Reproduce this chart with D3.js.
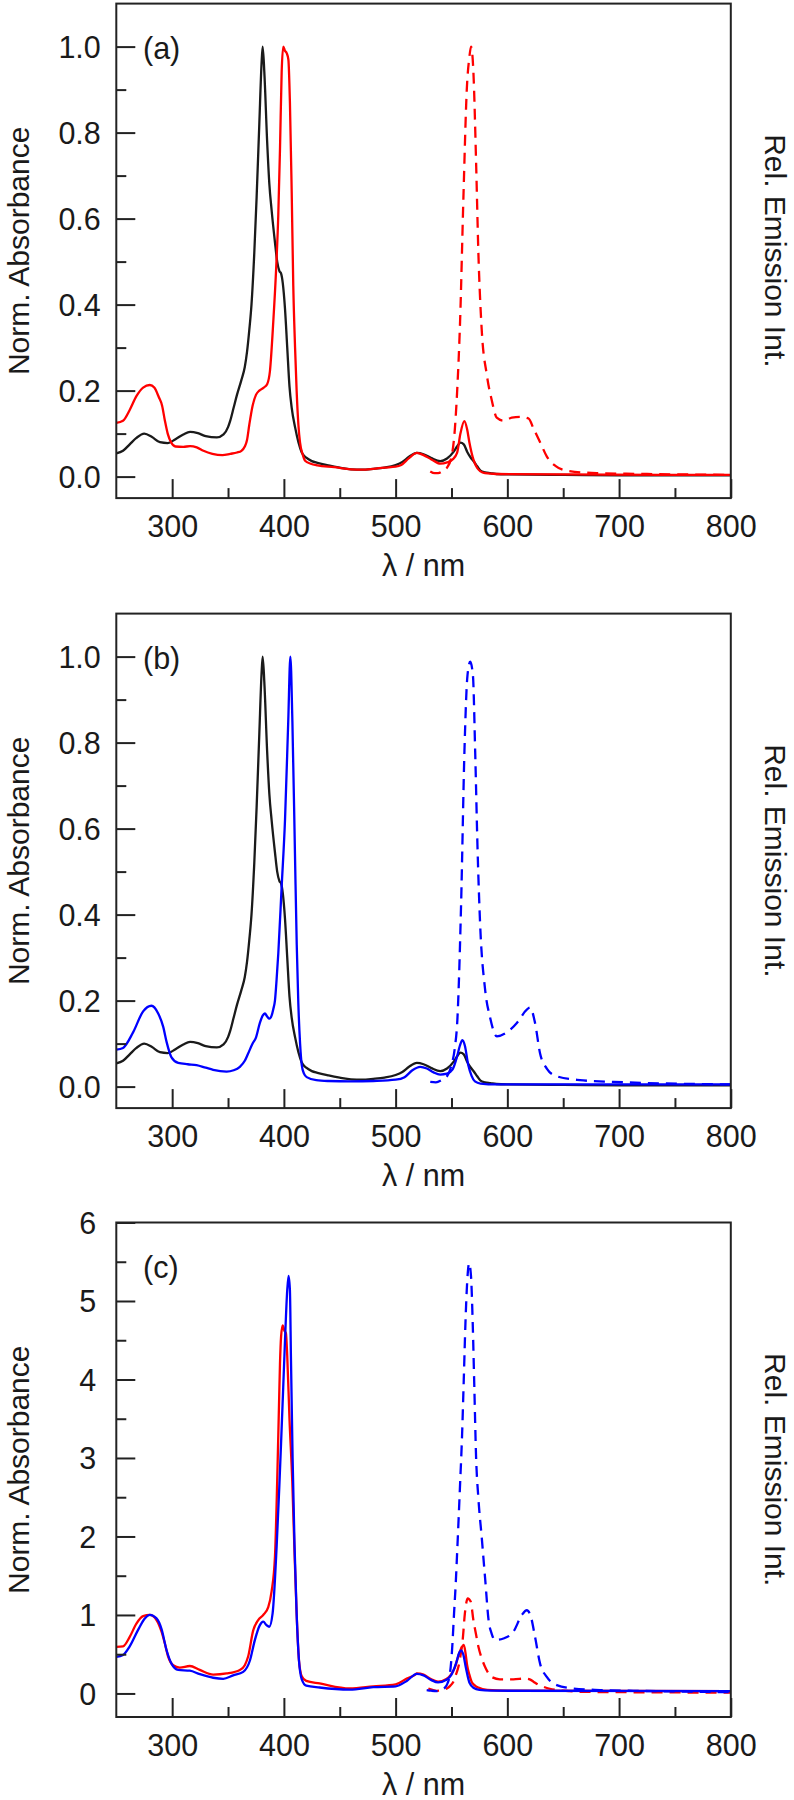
<!DOCTYPE html>
<html><head><meta charset="utf-8">
<script src="https://cdn.jsdelivr.net/npm/d3@7"></script>
<style>
body{margin:0;background:#fff}
svg text{font-family:"Liberation Sans",Arial,Helvetica,sans-serif;fill:#1a1a1a}
</style>
</head><body>
<svg id="chart" width="794" height="1800"></svg>
<script>
// ---------- tick labels / axis values ----------
const xMajorTicks = [300, 400, 500, 600, 700, 800];
const xMinorTicks = [350, 450, 550, 650, 750];
const yMajorAB = [0, 0.2, 0.4, 0.6, 0.8, 1.0];
const yMinorAB = [0.1, 0.3, 0.5, 0.7, 0.9];
const yMajorC = [0, 1, 2, 3, 4, 5, 6];
const yMinorC = [0.5, 1.5, 2.5, 3.5, 4.5, 5.5];
const panelLabels = ["(a)", "(b)", "(c)"];

// ---------- reference compound absorption (black), panels a & b ----------
const wlBlack = [250,256,262,268,275,282,289,296,303,310,316,323,330,340,346,350,352,355,358,362,365,367,369,371,373.5,375.6,378,380,381,382.5,385,387,389,392,394,396,397.5,399,401,403,405,407,410,413,416,420,425,430,440,450,460,470,480,490,500,506,512,519,525,532,540,546,552,555,558,561,564,567,570,573,576,580,585,590,600,650,700,750,800];
const absBlack = [0.054,0.06,0.075,0.09,0.100,0.092,0.08,0.078,0.087,0.098,0.104,0.101,0.094,0.091,0.098,0.115,0.13,0.16,0.19,0.225,0.255,0.29,0.34,0.40,0.52,0.65,0.82,0.96,1.0,0.94,0.78,0.68,0.62,0.545,0.50,0.478,0.472,0.45,0.39,0.30,0.21,0.16,0.115,0.08,0.056,0.044,0.036,0.032,0.026,0.021,0.017,0.016,0.018,0.021,0.027,0.034,0.046,0.055,0.052,0.043,0.036,0.042,0.058,0.07,0.079,0.075,0.058,0.045,0.035,0.024,0.014,0.010,0.008,0.006,0.005,0.004,0.003,0.003,0.003];

// ---------- panel a: red absorption (solid) and emission (dashed) ----------
const wlRedAbsA = [250,256,262,268,274,280,284,288,291,293.5,296,299,303,310,316,322,328,336,345,352,358,362,365,367,369,372,375,378,382,385,387.5,390.5,393,395,396.5,398,399.4,401,402.5,404,405.4,407,408.4,410,411.4,413,414.4,417,419,424,430,445,460,470,480,490,500,505,512,519,525,532,540,546,551,555,558,561.5,564,566,569.6,573,576,580,590,650,800];
const absRedA = [0.125,0.13,0.155,0.187,0.207,0.213,0.207,0.185,0.165,0.13,0.1,0.08,0.07,0.069,0.071,0.068,0.06,0.053,0.05,0.053,0.056,0.06,0.07,0.085,0.12,0.165,0.19,0.2,0.207,0.215,0.245,0.36,0.48,0.61,0.76,0.94,1.0,0.99,0.985,0.97,0.87,0.66,0.444,0.3,0.2,0.12,0.08,0.05,0.037,0.03,0.026,0.022,0.017,0.016,0.018,0.021,0.023,0.027,0.043,0.055,0.05,0.04,0.03,0.033,0.04,0.055,0.1,0.129,0.11,0.08,0.04,0.02,0.012,0.008,0.006,0.005,0.004];
const wlRedEmA = [531,535,538,542,546,550,553,555,557.7,560.7,563.7,566,567.5,569.6,572,574,577,581.6,586,590.5,596.6,604,611.5,619,623.4,629.5,635.5,643,653,680,725,800];
const emRedA = [0.012,0.008,0.008,0.013,0.021,0.046,0.11,0.195,0.361,0.651,0.9,0.975,1.0,0.942,0.734,0.527,0.344,0.237,0.178,0.137,0.13,0.137,0.139,0.135,0.112,0.079,0.046,0.025,0.014,0.008,0.006,0.004];

// ---------- panel b: blue absorption (solid) and emission (dashed) ----------
const wlBlueAbsB = [250,256,265,274,281.5,287.5,292,295,299.4,305.4,314,321.8,330,336.7,348.7,355,360.6,365,368,372,375,378.5,381,383,385,387,389,390.5,392,393.5,395,398,401,403.9,405.8,407.6,409.9,411.5,412.9,414.5,416,418,420.4,429,440,460,480,500,508,515,522,528,534,540,546,551,555,557.5,559.8,562,565,568,571,576,590,650,800];
const absBlueB = [0.086,0.09,0.126,0.175,0.188,0.17,0.139,0.104,0.068,0.055,0.052,0.05,0.044,0.039,0.035,0.038,0.046,0.06,0.077,0.1,0.114,0.148,0.165,0.17,0.163,0.158,0.165,0.18,0.2,0.25,0.31,0.465,0.62,0.85,1.0,0.85,0.543,0.33,0.195,0.1,0.05,0.03,0.022,0.015,0.013,0.012,0.013,0.016,0.022,0.038,0.046,0.042,0.033,0.028,0.03,0.04,0.07,0.095,0.108,0.095,0.05,0.025,0.012,0.007,0.005,0.005,0.005];
const wlBlueEmB = [531,536,541,546,550,553,555.3,558.6,561.6,564.3,566.8,569.2,571.2,573.3,575.6,580,584.6,590.6,599.5,608.5,617.4,620.3,624.8,629.3,635.3,644.2,665,695,800];
const emBlueB = [0.011,0.01,0.015,0.024,0.05,0.09,0.157,0.424,0.78,0.956,0.988,0.956,0.78,0.556,0.38,0.228,0.16,0.117,0.126,0.148,0.179,0.184,0.148,0.077,0.042,0.024,0.015,0.011,0.005];

// ---------- panel c: red and blue, absorption (solid) and emission (dashed) ----------
const wlRedAbsC = [250,256,262,268,274,280,286,290.5,293.4,296.4,300.9,306.8,315.8,324.7,336.7,348.7,360.6,365,368,372.5,377,381.5,386,389,392,394,395.5,396.5,397.5,398.9,400.5,401.8,403,405,407.5,409.5,411.4,413.5,416,420,432,459,480,500,510,517.6,519,525,532,538,545,549,553,556,558.5,561,562.5,564,566,568,571,574,582,600,800];
const absRedC = [0.594,0.6,0.72,0.89,0.985,1.0,0.935,0.786,0.64,0.47,0.36,0.33,0.35,0.3,0.24,0.255,0.3,0.36,0.47,0.8,0.935,1.0,1.1,1.3,1.74,2.7,3.6,4.2,4.55,4.69,4.62,4.59,4.3,3.5,2.7,1.8,1.02,0.42,0.22,0.16,0.127,0.063,0.09,0.117,0.19,0.24,0.256,0.24,0.18,0.15,0.18,0.23,0.33,0.47,0.57,0.62,0.52,0.36,0.24,0.15,0.1,0.075,0.045,0.035,0.03];
const wlBlueAbsC = [250,256,262,269.5,275.5,280,286,290.5,295,299.4,305.4,315.8,324.7,336.7,345.7,354.6,363.6,369.6,374,378.5,381.5,384.5,386.9,389.9,393.5,395.8,397.5,399.4,401,403,404.2,405.4,406.3,407.8,409.5,411.4,413.5,416,420,432,459,480,500,510,519,525,532,538,545,550,554,557,558.6,560.5,563,566,570,575,585,800];
const absBlueC = [0.466,0.49,0.6,0.81,0.956,1.0,0.956,0.82,0.55,0.38,0.3,0.29,0.246,0.2,0.186,0.23,0.275,0.42,0.68,0.87,0.914,0.87,0.85,1.02,1.87,2.6,3.2,3.9,4.5,5.14,5.32,5.14,4.29,3.0,1.9,1.02,0.42,0.18,0.1,0.076,0.05,0.08,0.09,0.16,0.25,0.23,0.17,0.14,0.17,0.24,0.38,0.52,0.55,0.5,0.32,0.14,0.07,0.045,0.035,0.03];
const wlRedEmC = [529.3,533,536.8,541,545.8,549,551.7,554,556.2,558.5,560,562,563.5,564.5,567.2,569.6,572,574,577,580,583,586,593.4,605.4,616,620,623.4,628,632.3,638,644.2,655,668,720,800];
const emRedC = [0.063,0.045,0.034,0.04,0.063,0.1,0.15,0.24,0.34,0.52,0.68,1.02,1.17,1.21,1.17,0.935,0.75,0.6,0.45,0.34,0.26,0.21,0.18,0.18,0.19,0.18,0.15,0.11,0.085,0.06,0.043,0.03,0.02,0.015,0.01];
const wlBlueEmC = [527.8,532,536.8,541,544.2,546.5,548.7,550.5,552.3,553.8,555.3,557.5,559.5,561,562.5,564,565.8,567.5,569,570.5,572,574,577,580.2,583.2,586,589,596.5,605.4,613,617.4,621,624.8,629.3,635.3,644.2,659,683,712.6,800];
const emBlueC = [0.043,0.035,0.03,0.045,0.076,0.13,0.26,0.55,1.02,1.4,1.87,2.6,3.3,4.0,4.72,5.23,5.48,5.31,4.72,3.87,3.02,2.5,2.0,1.45,0.935,0.76,0.68,0.7,0.786,1.0,1.06,0.98,0.72,0.38,0.21,0.106,0.063,0.043,0.034,0.017];

// ---------- layout ----------
const plotLeft = 116.3, plotRight = 730.8, plotH = 494.5;
const tops = [3.6, 613.6, 1222.5];
const FS = 30.5, FS_TITLE = 30;
const BLACK = "#1a1a1a", RED = "#ff0000", BLUE = "#0000ff";
const zip = (xs, ys) => xs.map((x, i) => [x, ys[i]]);

const panels = [
  { label: panelLabels[0], top: tops[0], yDomain: [-0.05, 1.1], yMajor: yMajorAB, yMinor: yMinorAB, fmt: d3.format(".1f"), pad: 15.5,
    series: [
      { d: zip(wlBlack, absBlack), c: BLACK, dash: false },
      { d: zip(wlRedAbsA, absRedA), c: RED, dash: false },
      { d: zip(wlRedEmA, emRedA), c: RED, dash: true } ] },
  { label: panelLabels[1], top: tops[1], yDomain: [-0.05, 1.1], yMajor: yMajorAB, yMinor: yMinorAB, fmt: d3.format(".1f"), pad: 15.5,
    series: [
      { d: zip(wlBlack, absBlack), c: BLACK, dash: false },
      { d: zip(wlBlueAbsB, absBlueB), c: BLUE, dash: false },
      { d: zip(wlBlueEmB, emBlueB), c: BLUE, dash: true } ] },
  { label: panelLabels[2], top: tops[2], yDomain: [-0.3, 6], yMajor: yMajorC, yMinor: yMinorC, fmt: d3.format("d"), pad: 20,
    series: [
      { d: zip(wlRedAbsC, absRedC), c: RED, dash: false },
      { d: zip(wlRedEmC, emRedC), c: RED, dash: true },
      { d: zip(wlBlueAbsC, absBlueC), c: BLUE, dash: false },
      { d: zip(wlBlueEmC, emBlueC), c: BLUE, dash: true } ] }
];

const svg = d3.select("#chart");
const x = d3.scaleLinear().domain([250, 800]).range([plotLeft, plotRight]);
const AX = "#222";

panels.forEach((p, i) => {
  const bottom = p.top + plotH;
  const y = d3.scaleLinear().domain(p.yDomain).range([bottom, p.top]);
  const g = svg.append("g");

  const clipId = "clip" + i;
  svg.append("clipPath").attr("id", clipId).append("rect")
    .attr("x", plotLeft).attr("y", p.top).attr("width", plotRight - plotLeft).attr("height", plotH);

  // curves
  const line = d3.line().x(d => x(d[0])).y(d => y(d[1])).curve(d3.curveMonotoneX);
  const cg = g.append("g").attr("clip-path", `url(#${clipId})`);
  p.series.forEach(s => {
    cg.append("path").datum(s.d).attr("d", line)
      .attr("fill", "none").attr("stroke", s.c).attr("stroke-width", 2.3)
      .attr("stroke-linejoin", "round")
      .attr("stroke-dasharray", s.dash ? "11,7" : null);
  });

  // y axis major
  const yAx = g.append("g").attr("transform", `translate(${plotLeft},0)`)
    .call(d3.axisLeft(y).tickValues(p.yMajor).tickSize(-19).tickPadding(p.pad).tickFormat(p.fmt));
  yAx.select(".domain").remove();
  yAx.selectAll("line").attr("stroke", AX).attr("stroke-width", 2);
  yAx.selectAll("text").attr("font-size", FS).attr("font-family", null).attr("fill", "#1a1a1a").attr("dy", "0.36em");
  const yMin = g.append("g").attr("transform", `translate(${plotLeft},0)`)
    .call(d3.axisLeft(y).tickValues(p.yMinor).tickSize(-10).tickFormat(""));
  yMin.select(".domain").remove();
  yMin.selectAll("line").attr("stroke", AX).attr("stroke-width", 2);

  // x axis
  const xAx = g.append("g").attr("transform", `translate(0,${bottom})`)
    .call(d3.axisBottom(x).tickValues(xMajorTicks).tickSize(-19).tickPadding(17).tickFormat(d3.format("d")));
  xAx.select(".domain").remove();
  xAx.selectAll("line").attr("stroke", AX).attr("stroke-width", 2);
  xAx.selectAll("text").attr("font-size", FS).attr("font-family", null).attr("fill", "#1a1a1a");
  const xMin = g.append("g").attr("transform", `translate(0,${bottom})`)
    .call(d3.axisBottom(x).tickValues(xMinorTicks).tickSize(-10).tickFormat(""));
  xMin.select(".domain").remove();
  xMin.selectAll("line").attr("stroke", AX).attr("stroke-width", 2);

  // frame
  g.append("rect").attr("x", plotLeft).attr("y", p.top)
    .attr("width", plotRight - plotLeft).attr("height", plotH)
    .attr("fill", "none").attr("stroke", AX).attr("stroke-width", 2);

  // panel label
  g.append("text").attr("x", 143).attr("y", p.top + 55).attr("font-size", FS).text(p.label);

  // axis titles
  const cy = (p.top + bottom) / 2;
  g.append("text").attr("x", (plotLeft + plotRight) / 2).attr("y", bottom + 78)
    .attr("text-anchor", "middle").attr("font-size", FS).text("λ / nm");
  g.append("text").attr("transform", `translate(28.5,${cy}) rotate(-90)`)
    .attr("text-anchor", "middle").attr("font-size", FS_TITLE).text("Norm. Absorbance");
  g.append("text").attr("transform", `translate(765,${cy}) rotate(90)`)
    .attr("text-anchor", "middle").attr("font-size", FS_TITLE).text("Rel. Emission Int.");
});
</script>
</body></html>
